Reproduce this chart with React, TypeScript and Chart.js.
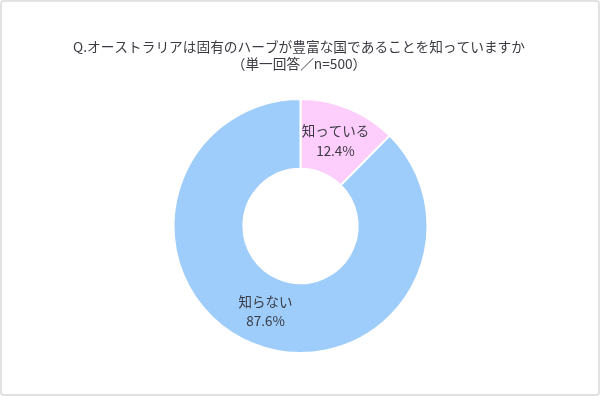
import React, { useEffect, useRef } from "react";
import { Chart, registerables } from "chart.js";

Chart.register(...registerables);

const titleLines = [
  "Q.オーストラリアは固有のハーブが豊富な国であることを知っていますか",
  "（単一回答／n=500）",
];
const categories = ["知っている", "知らない"];
const values = [12.4, 87.6];
const colors = ["#FDCDFB", "#9FCDFB"];

const FONT = '"Noto Sans CJK JP", "Noto Sans", sans-serif';

const labelPlugin = {
  id: "customLabels",
  afterDraw(chart: any) {
    const ctx = chart.ctx;
    ctx.save();
    ctx.fillStyle = "#3a3a42";
    ctx.textAlign = "center";
    ctx.textBaseline = "middle";
    ctx.font = `13.7px ${FONT}`;
    ctx.fillText(titleLines[0], 297, 45);
    ctx.fillText(titleLines[1], 297, 62);

    const meta = chart.getDatasetMeta(0);
    meta.data.forEach((arc: any, i: number) => {
      const p = arc.tooltipPosition();
      ctx.font = `13.5px ${FONT}`;
      ctx.fillStyle = "#3a3a42";
      ctx.fillText(categories[i], p.x, p.y - 9.5);
      ctx.fillText(values[i].toFixed(1) + "%", p.x, p.y + 10);
    });
    ctx.restore();
  },
};

export default function App() {
  const ref = useRef<HTMLCanvasElement | null>(null);
  useEffect(() => {
    if (!ref.current) return;
    const chart = new Chart(ref.current, {
      type: "doughnut",
      data: {
        labels: categories,
        datasets: [
          {
            data: values,
            backgroundColor: colors,
            borderColor: "#ffffff",
            borderWidth: 2,
          },
        ],
      },
      options: {
        animation: false,
        responsive: false,
        cutout: "45%",
        layout: { padding: { top: 96, bottom: 40, left: 1, right: 0 } },
        plugins: {
          legend: { display: false },
          tooltip: { enabled: false },
          title: { display: false },
        },
      },
      plugins: [labelPlugin],
    });
    return () => chart.destroy();
  }, []);
  return (
    <div
      style={{
        position: "fixed",
        left: 0,
        top: 0,
        width: 600,
        height: 396,
        background: "#ffffff",
        boxSizing: "border-box",
        border: "2px solid #e2e2e2",
        borderRadius: 4,
        overflow: "hidden",
      }}
    >
      <canvas
        ref={ref}
        width={596}
        height={392}
        style={{ display: "block", width: 596, height: 392 }}
      />
    </div>
  );
}
